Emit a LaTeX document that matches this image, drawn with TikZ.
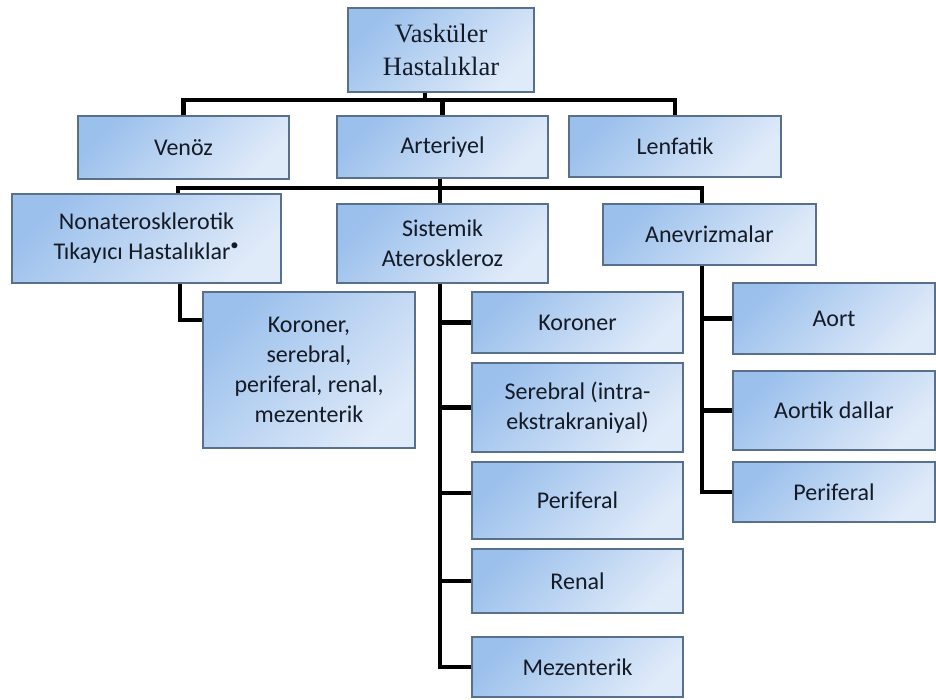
\documentclass[tikz,border=0pt]{standalone}
\usepackage{fontspec}
\setmainfont{Carlito}
\newfontfamily\baslikfont{Liberation Serif}
\usetikzlibrary{calc}
\definecolor{kutukoyu}{RGB}{155,192,236}
\definecolor{kutuacik}{RGB}{224,235,249}
\definecolor{kutucizgi}{RGB}{88,112,140}
\definecolor{murekkep}{RGB}{20,26,38}
\tikzset{
  kutu/.style={draw=kutucizgi, line width=1.2pt, top color=kutukoyu, bottom color=kutuacik,
    shading angle=45, align=center, text=murekkep, inner sep=2pt,
    font=\fontsize{24}{30}\selectfont},
  bag/.style={line width=4.5pt, black}
}
\begin{document}
\begin{tikzpicture}[x=1pt,y=-1pt]
\useasboundingbox (0,0) rectangle (936,700);
% ust seviye
\node[kutu, minimum width=186pt, minimum height=84pt,
  font=\baslikfont\fontsize{26.5}{33}\selectfont] (vh) at (441,50) {Vasküler\\Hastalıklar};
\node[kutu, minimum width=211pt, minimum height=63pt] (ven) at (183.5,147.5) {Venöz};
\node[kutu, minimum width=211pt, minimum height=62pt] (art) at (442.5,147) {Arteriyel};
\node[kutu, minimum width=212pt, minimum height=61pt] (len) at (675,146.5) {Lenfatik};
% arteriyel alt dallari
\node[kutu, minimum width=269pt, minimum height=89pt] (non) at (146.5,238.5) {Nonaterosklerotik\\Tıkayıcı Hastalıklar\textsuperscript{•}};
\node[kutu, minimum width=211pt, minimum height=79pt] (sis) at (442.5,243.5) {Sistemik\\Ateroskleroz};
\node[kutu, minimum width=213pt, minimum height=61pt] (anv) at (709.5,234.5) {Anevrizmalar};
\node[kutu, minimum width=212pt, minimum height=156pt] (nkor) at (309,370) {Koroner,\\serebral,\\periferal, renal,\\mezenterik};
% sistemik ateroskleroz
\foreach \ad/\y/\h/\yazi in {skor/322.5/61/Koroner, sser/407.5/89/{Serebral (intra-\\ekstrakraniyal)},
    sper/500.5/77/Periferal, sren/581/64/Renal, smez/667/60/Mezenterik} {
  \node[kutu, minimum width=211pt, minimum height=\h pt] (\ad) at (577.5,\y) {\yazi};
}
% anevrizmalar
\foreach \ad/\y/\h/\yazi in {aort/318.5/71/Aort, adal/410.5/79/Aortik dallar, aper/492/60/Periferal} {
  \node[kutu, minimum width=202pt, minimum height=\h pt] (\ad) at (834,\y) {\yazi};
}
% baglantilar
\coordinate (b1) at (425,100);
\draw[bag] ([xshift=-16pt]vh.south) -- (b1);
\draw[bag] (ven.north) |- (b1) -| (len.north);
\draw[bag] (art.north) -- (art.north |- b1);
\coordinate (b2) at (440,188);
\draw[bag] ([xshift=-2.5pt]art.south) -- (b2);
\draw[bag] ([xshift=31.5pt]non.north) |- (b2) -| ([xshift=-7.5pt]anv.north);
\draw[bag] ([xshift=-2.5pt]sis.north) -- (b2);
\draw[bag] ([xshift=33.5pt]non.south) |- ([yshift=50pt]nkor.west);
% sistemik govde
\coordinate (str) at ([xshift=-2.5pt]sis.south);
\coordinate (sperc) at ([yshift=7.5pt]sper.west);
\draw[bag] (str) |- (smez.west);
\foreach \c in {skor,sser,sperc,sren} {
  \draw[bag] (str |- \c) -- (\c);
}
% anevrizma govde
\coordinate (atr) at ([xshift=-7.5pt]anv.south);
\draw[bag] (atr) |- (aper.west);
\foreach \c in {aort,adal} {
  \draw[bag] (atr |- \c.west) -- (\c.west);
}
\end{tikzpicture}
\end{document}
